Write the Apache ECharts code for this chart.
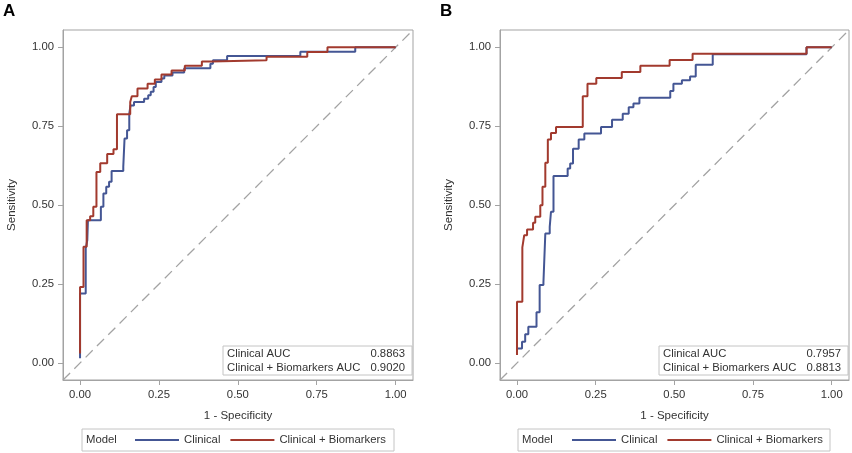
<!DOCTYPE html>
<html><head><meta charset="utf-8">
<script src="https://cdn.jsdelivr.net/npm/echarts@6/dist/echarts.min.js"></script>
<style>html,body{margin:0;padding:0;background:#fff}#c{width:852px;height:453px}</style>
</head><body><div id="c"></div>
<script>
// ---- data ----
const tickValues = [0, 0.25, 0.5, 0.75, 1];
const seriesNames = ['Clinical', 'Clinical + Biomarkers'];
const panelLetters = ['A', 'B'];
const aucLabels = ['Clinical AUC', 'Clinical + Biomarkers AUC'];
const aucA = ['0.8863', '0.9020'];
const aucB = ['0.7957', '0.8813'];

const clinicalA_x = [0, 0, 0.018, 0.023, 0.025, 0.066, 0.074, 0.083, 0.092, 0.100, 0.137, 0.141, 0.149, 0.156, 0.160, 0.171, 0.203, 0.216, 0.224, 0.233, 0.240, 0.258, 0.267, 0.293, 0.330, 0.413, 0.421, 0.466, 0.698, 0.872, 1.0];
const clinicalA_y = [0.015, 0.220, 0.363, 0.389, 0.452, 0.495, 0.537, 0.558, 0.574, 0.608, 0.622, 0.711, 0.737, 0.790, 0.816, 0.827, 0.837, 0.848, 0.859, 0.874, 0.890, 0.901, 0.911, 0.920, 0.934, 0.948, 0.959, 0.973, 0.986, 1.0, 1.0];
const combinedA_x = [0, 0, 0.011, 0.021, 0.032, 0.042, 0.052, 0.064, 0.086, 0.106, 0.117, 0.159, 0.164, 0.182, 0.214, 0.237, 0.258, 0.290, 0.332, 0.386, 0.418, 0.591, 0.720, 0.784, 1.0];
const combinedA_y = [0.030, 0.241, 0.368, 0.452, 0.465, 0.495, 0.605, 0.633, 0.662, 0.677, 0.788, 0.827, 0.845, 0.870, 0.885, 0.898, 0.914, 0.927, 0.942, 0.955, 0.959, 0.970, 0.985, 1.0, 1.0];

const clinicalB_x = [0, 0.016, 0.026, 0.036, 0.062, 0.072, 0.084, 0.090, 0.104, 0.108, 0.116, 0.161, 0.169, 0.178, 0.196, 0.214, 0.267, 0.302, 0.336, 0.355, 0.370, 0.389, 0.487, 0.497, 0.524, 0.550, 0.568, 0.622, 0.920, 1.0];
const clinicalB_y = [0.046, 0.067, 0.091, 0.115, 0.161, 0.247, 0.255, 0.410, 0.431, 0.479, 0.592, 0.616, 0.632, 0.679, 0.708, 0.727, 0.748, 0.771, 0.790, 0.810, 0.822, 0.840, 0.862, 0.885, 0.896, 0.908, 0.945, 0.978, 1.0, 1.0];
const combinedB_x = [0, 0, 0.017, 0.023, 0.032, 0.051, 0.058, 0.074, 0.081, 0.090, 0.098, 0.108, 0.124, 0.209, 0.224, 0.252, 0.333, 0.392, 0.485, 0.558, 0.920, 1.0];
const combinedB_y = [0.025, 0.194, 0.366, 0.405, 0.423, 0.444, 0.463, 0.500, 0.558, 0.634, 0.708, 0.729, 0.748, 0.845, 0.885, 0.903, 0.922, 0.942, 0.960, 0.980, 1.0, 1.0];

// ---- chart ----
const AX_MIN = -0.054, AX_MAX = 1.055;
const FONT = '"Liberation Sans", Arial, sans-serif';
const FS = 11.3;
const GRAY = '#a3a3a3';
const TXT = '#333333';
const BLUE = '#445694', RED = '#A23A2E';

const zip = (xs, ys) => xs.map((x, i) => [x, ys[i]]);

const grids = [
  {left: 63, top: 30, width: 350, height: 350},
  {left: 500, top: 30, width: 349, height: 350}
];

function axis(gi, name, isY) {
  return {
    type: 'value', gridIndex: gi, min: AX_MIN, max: AX_MAX,
    name: name, nameLocation: 'middle', nameGap: isY ? 45 : 30,
    nameTextStyle: {fontFamily: FONT, fontSize: FS + 0.2, color: TXT},
    axisLine: {show: true, onZero: false, lineStyle: {color: GRAY, width: 1}},
    axisTick: {show: true, customValues: tickValues, length: 5, lineStyle: {color: GRAY}},
    axisLabel: {customValues: tickValues, formatter: v => v.toFixed(2), fontFamily: FONT, fontSize: FS, color: TXT, margin: 9},
    splitLine: {show: false}
  };
}

function rocSeries(gi, name, data, color) {
  return {
    type: 'line', name: name, xAxisIndex: gi, yAxisIndex: gi, data: data,
    step: 'end', showSymbol: false, symbol: 'none', animation: false,
    lineStyle: {color: color, width: 2}, itemStyle: {color: color}, z: name === seriesNames[1] ? 4 : 3
  };
}

function diagSeries(gi) {
  return {
    type: 'line', xAxisIndex: gi, yAxisIndex: gi, data: [[AX_MIN, AX_MIN], [AX_MAX, AX_MAX]],
    showSymbol: false, symbol: 'none', silent: true, animation: false, z: 2,
    lineStyle: {color: '#a3a3a3', width: 1.3, type: [10, 6]}
  };
}

function aucBox(x0, x1, y0, vals) {
  const h = 29;
  return [
    {type: 'rect', shape: {x: x0, y: y0, width: x1 - x0, height: h}, style: {fill: '#fff', stroke: '#c4c4c4', lineWidth: 1}, z: 100},
    {type: 'text', z: 101, style: {text: aucLabels[0], x: x0 + 4, y: y0 + 7.5, align: 'left', verticalAlign: 'middle', font: FS + 'px ' + FONT, fill: TXT}},
    {type: 'text', z: 101, style: {text: aucLabels[1], x: x0 + 4, y: y0 + 22, align: 'left', verticalAlign: 'middle', font: FS + 'px ' + FONT, fill: TXT}},
    {type: 'text', z: 101, style: {text: vals[0], x: x1 - 7, y: y0 + 7.5, align: 'right', verticalAlign: 'middle', font: FS + 'px ' + FONT, fill: TXT}},
    {type: 'text', z: 101, style: {text: vals[1], x: x1 - 7, y: y0 + 22, align: 'right', verticalAlign: 'middle', font: FS + 'px ' + FONT, fill: TXT}}
  ];
}

function legendBox(x0, x1) {
  return [
    {type: 'rect', shape: {x: x0, y: 429, width: x1 - x0, height: 22}, style: {fill: 'none', stroke: '#c4c4c4', lineWidth: 1}, z: 100},
    {type: 'text', z: 101, style: {text: 'Model', x: x0 + 4, y: 440, align: 'left', verticalAlign: 'middle', font: FS + 'px ' + FONT, fill: TXT}}
  ];
}

function legend(left) {
  return {
    left: left, top: 433, padding: 0, itemWidth: 44, itemHeight: 2, itemGap: 10, icon: 'rect',
    data: seriesNames, selectedMode: false,
    textStyle: {fontFamily: FONT, fontSize: FS, color: TXT, lineHeight: 14}
  };
}

const chart = echarts.init(document.getElementById('c'), null, {renderer: 'canvas'});
chart.setOption({
  animation: false,
  backgroundColor: '#fff',
  grid: grids.map(g => Object.assign({show: true, borderColor: GRAY, borderWidth: 1, containLabel: false}, g)),
  xAxis: [axis(0, '1 - Specificity', false), axis(1, '1 - Specificity', false)],
  yAxis: [axis(0, 'Sensitivity', true), axis(1, 'Sensitivity', true)],
  legend: [legend(135), legend(572)],
  series: [
    diagSeries(0),
    rocSeries(0, seriesNames[0], zip(clinicalA_x, clinicalA_y), BLUE),
    rocSeries(0, seriesNames[1], zip(combinedA_x, combinedA_y), RED),
    diagSeries(1),
    rocSeries(1, seriesNames[0], zip(clinicalB_x, clinicalB_y), BLUE),
    rocSeries(1, seriesNames[1], zip(combinedB_x, combinedB_y), RED)
  ],
  graphic: [
    {type: 'text', style: {text: panelLetters[0], x: 3, y: 3, font: 'bold 17px ' + FONT, fill: '#000'}},
    {type: 'text', style: {text: panelLetters[1], x: 440, y: 3, font: 'bold 17px ' + FONT, fill: '#000'}},
    ...aucBox(223, 412, 346, aucA),
    ...aucBox(659, 848, 346, aucB),
    ...legendBox(82, 394),
    ...legendBox(518, 830)
  ]
});
</script>
</body></html>
